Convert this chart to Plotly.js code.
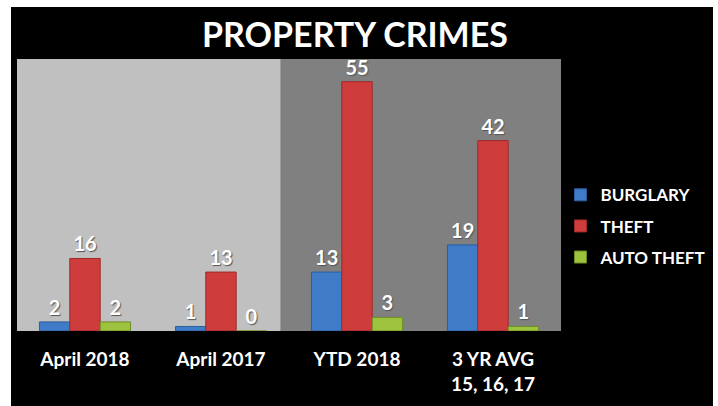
<!DOCTYPE html>
<html>
<head>
<meta charset="utf-8">
<script src="https://cdn.plot.ly/plotly-3.0.1.min.js"></script>
<style>
  html, body { margin: 0; padding: 0; background: #fff; }
  #chart { position: absolute; left: 11px; top: 7px; width: 702px; height: 399px; }
</style>
</head>
<body>
<div id="chart"></div>
<script>
const categories = ["April 2018", "April 2017", "YTD 2018", "3 YR AVG<br>15, 16, 17"];
const burglary = [2, 1, 13, 19];
const theft = [16, 13, 55, 42];
const autoTheft = [2, 0, 3, 1];

const labelFont = { family: "Lato, Calibri, sans-serif", size: 20, color: "#ffffff", weight: "bold",
  shadow: "1px 1px 1px #555" };

function barTrace(name, values, color, edge, group){
  return {
    x: categories,
    y: values,
    type: "bar",
    name: name,
    legendgroup: group,
    marker: { color: color, line: { color: edge, width: 1 } },
    text: values.map(String),
    textposition: "outside",
    textfont: labelFont,
    cliponaxis: false,
    hoverinfo: "skip"
  };
}

Plotly.newPlot("chart", [
  barTrace("BURGLARY", burglary, "#3f7bc6", "#2d5f9e", "a"),
  barTrace("THEFT", theft, "#cf3c3c", "#9e2a2a", "b"),
  barTrace("AUTO THEFT", autoTheft, "#9cc23e", "#6f8e26", "c")
], {
  width: 702,
  height: 399,
  paper_bgcolor: "#000000",
  plot_bgcolor: "rgba(0,0,0,0)",
  margin: { t: 52, r: 152, b: 75, l: 6, autoexpand: false },
  title: {
    text: "<b>PROPERTY CRIMES</b>",
    font: { family: "Lato, Calibri, sans-serif", size: 34, color: "#ffffff" },
    x: 0.49, xanchor: "center", y: 0.93, yanchor: "middle"
  },
  bargap: 0.33,
  bargroupgap: 0,
  xaxis: {
    tickfont: { family: "Lato, Calibri, sans-serif", size: 19, color: "#ffffff", weight: "bold" },
    showline: false, showgrid: false, zeroline: false, ticks: "",
    ticklabelstandoff: 15,
    fixedrange: true
  },
  yaxis: {
    range: [0, 60], visible: false, fixedrange: true
  },
  shapes: [
    { type: "rect", xref: "paper", yref: "paper", x0: 0, x1: 0.485, y0: 0, y1: 1,
      fillcolor: "#c0c0c0", line: { width: 0 }, layer: "below" },
    { type: "rect", xref: "paper", yref: "paper", x0: 0.485, x1: 1, y0: 0, y1: 1,
      fillcolor: "#808080", line: { width: 0 }, layer: "below" }
  ],
  showlegend: true,
  legend: {
    x: 0.999, xanchor: "left", y: 0.385, yanchor: "middle",
    font: { family: "Lato, Calibri, sans-serif", size: 17, color: "#ffffff", weight: "bold" },
    traceorder: "grouped",
    tracegroupgap: 6,
    bgcolor: "rgba(0,0,0,0)"
  }
}, { displayModeBar: false, staticPlot: true });
</script>
</body>
</html>
